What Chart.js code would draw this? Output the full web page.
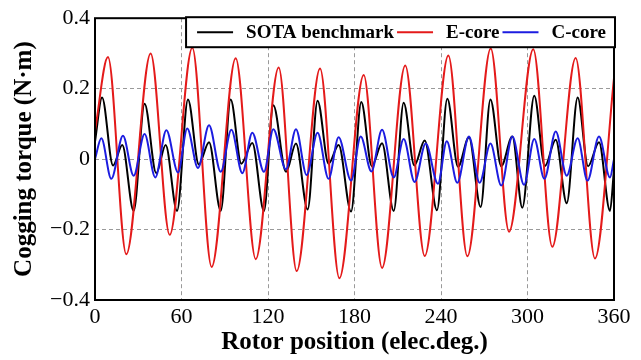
<!DOCTYPE html>
<html>
<head>
<meta charset="utf-8">
<script src="https://cdn.jsdelivr.net/npm/chart.js@4.4.1/dist/chart.umd.min.js"></script>
<style>
  html, body { margin: 0; padding: 0; background: #fff; }
  #wrap { width: 641px; height: 360px; position: relative; }
</style>
</head>
<body>
<div id="wrap"><canvas id="cogChart"></canvas></div>
<script>
// ── data (extrema of each curve) ──
const sotaX = [0, 4.9, 12.5, 18.9, 26.8, 34.4, 42.5, 49, 56.9, 64.5, 72.0, 79.1, 87.2, 94.1, 101.5, 109.1, 117.2,
  123.7, 132.5, 139.4, 147.5, 154.4, 162, 169, 177.6, 184.7, 192, 199.1, 207.2, 214.1, 221.5, 228.7, 237.2,
  244.4, 251.8, 259.4, 267.5, 274.3, 281.8, 289.5, 296.4, 304.7, 312, 319.6, 327.2, 334.8, 342, 349.6, 357.2, 360];
const sotaY = [0.05, 0.175, -0.018, 0.04, -0.147, 0.157, -0.04, 0.04, -0.147, 0.169, -0.015, 0.048, -0.147, 0.169, -0.013, 0.046, -0.147,
  0.153, -0.036, 0.044, -0.143, 0.166, -0.013, 0.04, -0.149, 0.162, -0.02, 0.045, -0.147, 0.16, -0.018, 0.053, -0.145,
  0.171, -0.022, 0.062, -0.136, 0.169, -0.02, 0.064, -0.138, 0.18, -0.02, 0.055, -0.125, 0.175, -0.02, 0.048, -0.147, -0.03];

const eCoreX = [0, 9.0, 21.7, 38.6, 51.8, 67.5, 80.9, 97.6, 111.5, 127.4, 139.9, 156.1, 169.5, 186.4, 199.1,
  215.2, 228.7, 245.1, 258.3, 274.5, 287.2, 304.0, 317.2, 333.4, 346.8, 360];
const eCoreY = [0.08, 0.29, -0.27, 0.30, -0.215, 0.316, -0.306, 0.286, -0.284, 0.26, -0.318, 0.257, -0.338, 0.239, -0.309,
  0.266, -0.275, 0.294, -0.276, 0.314, -0.206, 0.312, -0.249, 0.287, -0.282, 0.23];

const cCoreX = [0, 4.4, 11.3, 19.4, 26.8, 34.4, 41.8, 49.5, 57.6, 64, 71.4, 79.1, 87.2, 94.6, 102.2, 109.1, 117.2,
  123.7, 132.4, 139.4, 146.8, 154.4, 162, 169, 177.6, 184.3, 191.7, 199.1, 207.2, 214.1, 221.7, 229.4, 237.9,
  244.0, 251.3, 259.4, 266.8, 274.3, 281.8, 289.5, 297.6, 304.7, 311.7, 319.6, 327.2, 334.8, 341.6, 349.6, 357.2, 360];
const cCoreY = [0.0, 0.059, -0.056, 0.066, -0.047, 0.071, -0.052, 0.082, -0.038, 0.087, -0.025, 0.096, -0.036, 0.083, -0.04, 0.075, -0.036,
  0.085, -0.029, 0.085, -0.045, 0.075, -0.056, 0.062, -0.061, 0.064, -0.035, 0.083, -0.052, 0.057, -0.065, 0.044, -0.07,
  0.051, -0.067, 0.064, -0.067, 0.044, -0.075, 0.064, -0.073, 0.057, -0.056, 0.078, -0.047, 0.059, -0.061, 0.064, -0.052, 0.0];

const xTicks = [0, 60, 120, 180, 240, 300, 360];
const xTickLabels = ['0', '60', '120', '180', '240', '300', '360'];
const yTicks = [-0.4, -0.2, 0, 0.2, 0.4];
const yTickLabels = ['\u22120.4', '\u22120.2', '0', '0.2', '0.4'];

const SERIF = '"Liberation Serif", "Times New Roman", serif';
const pts = (xs, ys) => xs.map((x, i) => ({ x, y: ys[i] }));

// frame round the plot area
const frameBox = {
  id: 'frameBox',
  afterDatasetsDraw(chart) {
    const { ctx, chartArea: a } = chart;
    ctx.save();
    ctx.strokeStyle = '#000';
    ctx.lineWidth = 2;
    ctx.strokeRect(a.left, a.top, a.right - a.left, a.bottom - a.top);
    ctx.restore();
  }
};

// boxed legend sitting over the top edge of the plot
const boxLegend = {
  id: 'boxLegend',
  afterDraw(chart) {
    const { ctx, chartArea: a } = chart;
    ctx.save();
    ctx.font = 'bold 19px ' + SERIF;
    const lineLen = 36, gapText = 13, gapItem = 3, padL = 11, padR = 9, h = 30;
    const items = chart.data.datasets.map(ds => ({ text: ds.label, color: ds.borderColor, w: ctx.measureText(ds.label).width }));
    let total = padL + padR;
    items.forEach((it, i) => { total += lineLen + gapText + it.w + (i ? gapItem : 0); });
    const right = a.right + 1, top = a.top - 1;
    const left = right - total;
    ctx.fillStyle = '#fff';
    ctx.fillRect(left, top, total, h);
    ctx.strokeStyle = '#000';
    ctx.lineWidth = 2;
    ctx.strokeRect(left, top, total, h);
    let x = left + padL;
    const cy = top + h / 2;
    ctx.textBaseline = 'middle';
    ctx.textAlign = 'left';
    items.forEach((it, i) => {
      if (i) x += gapItem;
      ctx.strokeStyle = it.color;
      ctx.lineWidth = 2;
      ctx.beginPath(); ctx.moveTo(x, cy); ctx.lineTo(x + lineLen, cy); ctx.stroke();
      x += lineLen + gapText;
      ctx.fillStyle = '#000';
      ctx.fillText(it.text, x, cy + 1);
      x += it.w;
    });
    ctx.restore();
  }
};

const line = (label, xs, ys, color, order) => ({
  label, data: pts(xs, ys), borderColor: color, backgroundColor: color,
  borderWidth: 2, pointRadius: 0, cubicInterpolationMode: 'monotone', fill: false, order
});

new Chart(document.getElementById('cogChart').getContext('2d'), {
  type: 'line',
  data: {
    datasets: [
      line('SOTA benchmark', sotaX, sotaY, '#000000', 3),
      line('E-core', eCoreX, eCoreY, '#e41a1a', 2),
      line('C-core', cCoreX, cCoreY, '#1c1ce0', 1)
    ]
  },
  options: {
    responsive: true, maintainAspectRatio: false, animation: false,
    layout: { padding: { top: 8, right: 27, left: 0, bottom: 0 } },
    plugins: { legend: { display: false }, tooltip: { enabled: false } },
    scales: {
      x: {
        type: 'linear', min: 0, max: 360,
        afterBuildTicks: s => { s.ticks = xTicks.map(v => ({ value: v })); },
        afterFit: s => { s.height = 60; },
        ticks: { color: '#000', padding: 4, maxRotation: 0, font: { family: SERIF, size: 22 },
          callback: (v, i) => xTickLabels[i] },
        grid: { color: '#9a9a9a', drawTicks: false, lineWidth: 1 },
        border: { display: false, dash: [4, 3] },
        title: { display: true, text: 'Rotor position (elec.deg.)', color: '#000',
          font: { family: SERIF, size: 25, weight: 'bold' }, padding: { top: 0, bottom: 2 } }
      },
      y: {
        min: -0.4, max: 0.4,
        afterBuildTicks: s => { s.ticks = yTicks.map(v => ({ value: v })); },
        afterFit: s => { s.width = 95; },
        ticks: { color: '#000', padding: 5, font: { family: SERIF, size: 22 },
          callback: (v, i) => yTickLabels[i] },
        grid: { color: '#9a9a9a', drawTicks: false, lineWidth: 1 },
        border: { display: false, dash: [4, 3] },
        title: { display: true, text: 'Cogging torque (N\u00b7m)', color: '#000',
          font: { family: SERIF, size: 25, weight: 'bold' }, padding: { top: 10, bottom: 0 } }
      }
    }
  },
  plugins: [frameBox, boxLegend]
});
</script>
</body>
</html>
